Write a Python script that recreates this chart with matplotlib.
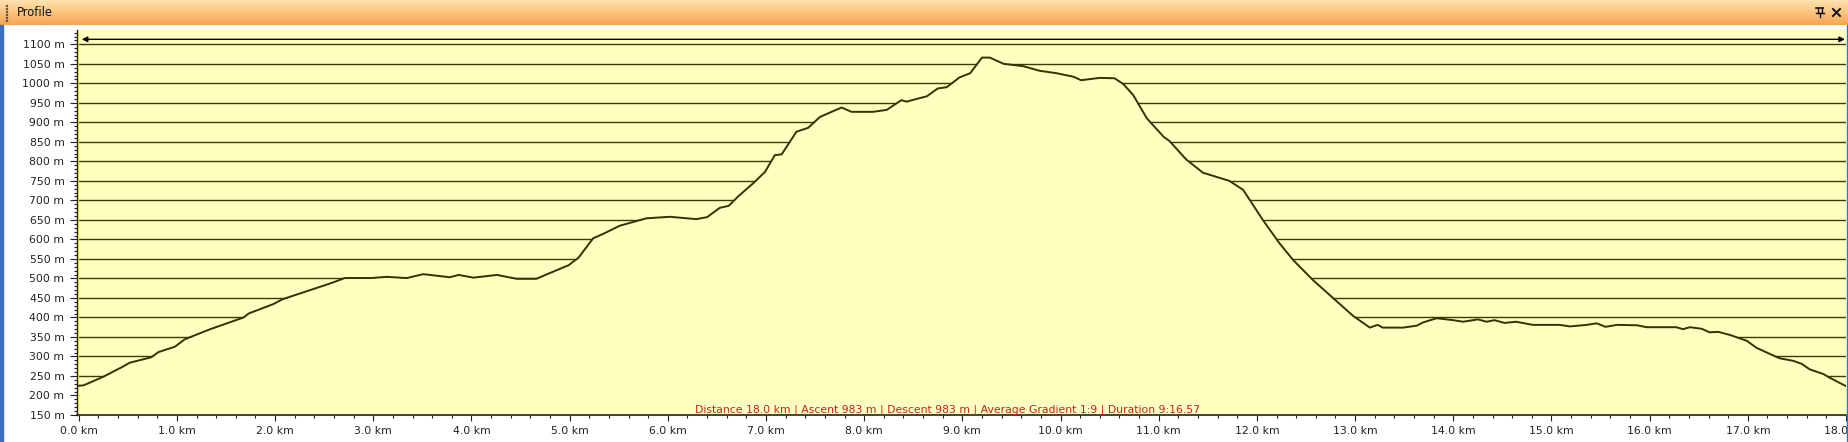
import numpy as np
import matplotlib
matplotlib.use("Agg")
import matplotlib.pyplot as plt
import matplotlib.transforms as mtransforms
from matplotlib.ticker import MultipleLocator, FuncFormatter

# ---- data ----
distance_km = [0.00, 0.05, 0.25, 0.45, 0.52, 0.74, 0.81, 0.98, 1.08, 1.34, 1.68, 1.73,
               1.98, 2.08, 2.56, 2.71, 2.97, 3.14, 3.34, 3.51, 3.78, 3.87, 4.02, 4.26,
               4.46, 4.66, 4.83, 4.99, 5.09, 5.24, 5.34, 5.51, 5.78, 6.02, 6.29, 6.40,
               6.53, 6.62, 6.72, 6.87, 6.99, 7.09, 7.16, 7.31, 7.43, 7.55, 7.77, 7.87,
               8.09, 8.23, 8.38, 8.43, 8.64, 8.75, 8.84, 8.97, 9.08, 9.20, 9.28, 9.42,
               9.62, 9.79, 9.96, 10.13, 10.21, 10.40, 10.55, 10.64, 10.74, 10.88, 11.05,
               11.11, 11.28, 11.45, 11.72, 11.86, 12.06, 12.23, 12.37, 12.57, 12.77,
               12.98, 13.15, 13.23, 13.28, 13.49, 13.63, 13.69, 13.83, 14.00, 14.10,
               14.25, 14.34, 14.42, 14.52, 14.64, 14.81, 15.08, 15.19, 15.36, 15.46,
               15.55, 15.67, 15.87, 15.97, 16.27, 16.34, 16.41, 16.53, 16.61, 16.70,
               16.82, 16.99, 17.09, 17.29, 17.33, 17.46, 17.55, 17.63, 17.77, 17.83, 18.00]
elevation_m = [225, 226, 248, 274, 284, 298, 311, 325, 344, 370, 400, 410,
               434, 447, 487, 501, 501, 504, 501, 511, 503, 509, 502, 509,
               499, 499, 517, 534, 553, 603, 614, 635, 654, 658, 652, 657,
               681, 686, 711, 744, 773, 816, 818, 876, 886, 914, 938, 927,
               927, 932, 957, 953, 967, 987, 990, 1015, 1026, 1066, 1066, 1050,
               1044, 1032, 1026, 1017, 1008, 1014, 1013, 998, 970, 910, 863,
               852, 805, 771, 750, 727, 650, 590, 547, 496, 451,
               404, 374, 381, 374, 374, 379, 387, 398, 393, 389,
               395, 389, 393, 386, 389, 381, 381, 377, 381, 385,
               376, 381, 380, 375, 375, 370, 375, 371, 362, 363,
               355, 340, 322, 299, 295, 289, 281, 267, 255, 246, 224]

x_ticks_km = list(range(0, 19))
y_ticks_m = list(range(150, 1101, 50))
title_text = "Profile"
stats_text = ("Distance 18.0 km | Ascent 983 m | Descent 983 m | "
              "Average Gradient 1:9 | Duration 9:16.57")

W, H = 1849, 442
BG = "#ffffc0"
GRID = "#3c3c00"
LINE = "#333300"

fig = plt.figure(figsize=(W / 100, H / 100), dpi=100)
fig.patch.set_facecolor("white")

# main axes in pixel layout
left_px, right_px, top_px, bottom_px = 77, 1846, 30, 415
ax = fig.add_axes([left_px / W, (H - bottom_px) / H,
                   (right_px - left_px) / W, (bottom_px - top_px) / H])
ax.set_facecolor(BG)
px_per_km = 98.2
xmin = -(78.7 - left_px) / px_per_km
ax.set_xlim(xmin, xmin + (right_px - left_px) / px_per_km)
ax.set_ylim(150, 1136.7)

# grid lines (covered by the fill beneath the profile)
for v in y_ticks_m[1:]:
    ax.axhline(v, color=GRID, lw=1.0, zorder=1)

ax.fill_between(distance_km, elevation_m, 150, color=BG, lw=0, zorder=2)
ax.plot(distance_km, elevation_m, color=LINE, lw=1.4, zorder=3,
        solid_joinstyle="round")
ax.axvline(xmin + 0.012, color="#ffff70", lw=1.6, zorder=2.5)

# range arrow
ax.annotate("", xy=(0.9994, 1112.8), xytext=(0.0027, 1112.8),
            xycoords=("axes fraction", "data"),
            arrowprops=dict(arrowstyle="<|-|>", color="black", lw=1.0,
                            mutation_scale=8, shrinkA=0, shrinkB=0), zorder=4)

blend = mtransforms.blended_transform_factory(ax.transAxes, ax.transData)
ax.text(0.492, 157, stats_text, transform=blend,
        color="#cc2020", fontsize=7.8, ha="center", va="baseline", zorder=5)

ax.set_xticks(x_ticks_km)
ax.xaxis.set_minor_locator(MultipleLocator(0.2))
ax.xaxis.set_major_formatter(FuncFormatter(lambda v, p: f"{v:.1f} km"))
ax.set_yticks(y_ticks_m)
ax.yaxis.set_minor_locator(MultipleLocator(10))
ax.yaxis.set_major_formatter(FuncFormatter(lambda v, p: f"{int(round(v))} m"))

ax.tick_params(axis="both", which="major", labelsize=7.8, colors="#222222",
               width=0.8)
ax.tick_params(axis="x", which="major", length=4.5, pad=3.5)
ax.tick_params(axis="y", which="major", length=5, pad=4)
ax.tick_params(axis="both", which="minor", length=2.2, width=0.8,
               colors="#222222")
for s in ["top", "right"]:
    ax.spines[s].set_visible(False)
ax.spines["left"].set_color("#222222")
ax.spines["bottom"].set_color("#222222")
ax.spines["left"].set_linewidth(1.0)
ax.spines["bottom"].set_linewidth(1.2)

# ---- decorations: title bar & borders in pixel coords ----
deco = fig.add_axes([0, 0, 1, 1], zorder=10)
deco.set_xlim(0, W)
deco.set_ylim(H, 0)
deco.axis("off")
deco.patch.set_alpha(0)

top_c = np.array([254, 226, 176]) / 255
mid_c = np.array([252, 196, 124]) / 255
bot_c = np.array([248, 164, 84]) / 255
n = 25
grad = np.zeros((n, 2, 3))
for i in range(n):
    t = i / (n - 1)
    if t < 0.5:
        c = top_c + (mid_c - top_c) * (t / 0.5)
    else:
        c = mid_c + (bot_c - mid_c) * ((t - 0.5) / 0.5)
    grad[i, :, :] = c
deco.imshow(grad, extent=(0, W, 25, 0), aspect="auto", interpolation="bilinear",
            zorder=1)
deco.set_xlim(0, W)
deco.set_ylim(H, 0)

# grip dots
for yy in range(5, 23, 3):
    deco.add_patch(plt.Rectangle((6, yy), 1.2, 1.2, color="#555555", zorder=2))
deco.text(17, 13, title_text, fontsize=8.3, color="#111111", va="center",
          ha="left", zorder=3)
# pin icon
deco.plot([1816, 1823], [8, 8], color="#111111", lw=1.2, zorder=3)
deco.plot([1817.5, 1817.5, 1821.5, 1821.5], [8, 13, 13, 8], color="#111111",
          lw=1.0, zorder=3)
deco.plot([1815.5, 1823.5], [13, 13], color="#111111", lw=1.0, zorder=3)
deco.plot([1819.5, 1819.5], [13, 17], color="#111111", lw=1.0, zorder=3)
# close x
deco.plot([1833, 1840], [9, 16], color="#111111", lw=1.4, zorder=3)
deco.plot([1833, 1840], [16, 9], color="#111111", lw=1.4, zorder=3)

# blue side borders
deco.add_patch(plt.Rectangle((0, 25), 2.5, H - 25, color="#3d6fc0", zorder=2))
deco.add_patch(plt.Rectangle((W - 2.5, 25), 2.5, H - 25, color="#3d6fc0",
                             zorder=2))

fig.savefig("out.png", dpi=100, facecolor=fig.get_facecolor())
